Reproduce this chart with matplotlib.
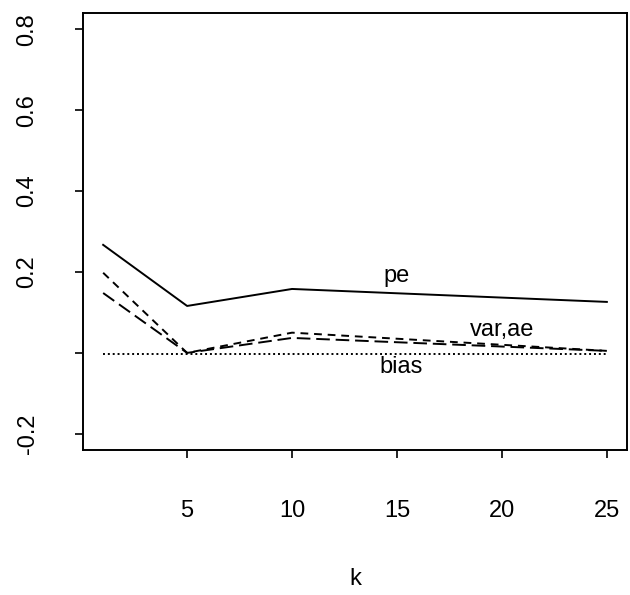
import matplotlib
matplotlib.use("Agg")
import matplotlib.pyplot as plt

k = [1, 5, 10, 25]
pe = [0.267, 0.116, 0.158, 0.126]
var = [0.198, 0.0, 0.050, 0.005]
ae = [0.148, 0.0, 0.037, 0.005]
bias = [-0.003, -0.003, -0.003, -0.003]

xticks = [5, 10, 15, 20, 25]
yticks = [-0.2, 0.0, 0.2, 0.4, 0.6, 0.8]
ytick_labels = ["-0.2", "", "0.2", "0.4", "0.6", "0.8"]

labels = [("pe", 15, 0.19), ("var,ae", 20, 0.057), ("bias", 15.2, -0.035)]

plt.rcParams['font.family'] = ['Liberation Sans', 'DejaVu Sans']
fs = 17

fig = plt.figure(figsize=(6.3, 5.95), dpi=100)
ax = fig.add_axes([83/630, (595-450)/595, (627-83)/630, (450-13)/595])

lw = 1.4
ax.plot(k, pe, color='black', lw=lw, linestyle='-')
ax.plot(k, var, color='black', lw=lw, linestyle=(0, (4, 3)))
ax.plot(k, ae, color='black', lw=lw, linestyle=(0, (7, 3)))
ax.plot(k, bias, color='black', lw=lw, linestyle=(0, (1, 1.5)))

for txt, x, y in labels:
    ax.text(x, y, txt, ha='center', va='center', fontsize=fs)

ax.set_xlim(1 - 0.96, 25 + 0.96)
ax.set_ylim(-0.2 - 0.04, 0.8 + 0.04)
ax.set_xticks(xticks)
ax.set_xticklabels([str(t) for t in xticks])
ax.set_yticks(yticks)
ax.set_yticklabels(ytick_labels, rotation=90, va='center')

ax.tick_params(axis='both', direction='out', length=6, width=1.2, labelsize=fs, color='black')
ax.tick_params(axis='x', pad=30)
ax.tick_params(axis='y', pad=26)
for s in ax.spines.values():
    s.set_linewidth(1.4)

ax.set_xlabel('k', fontsize=fs, labelpad=33)

fig.savefig('out.png', dpi=100)
